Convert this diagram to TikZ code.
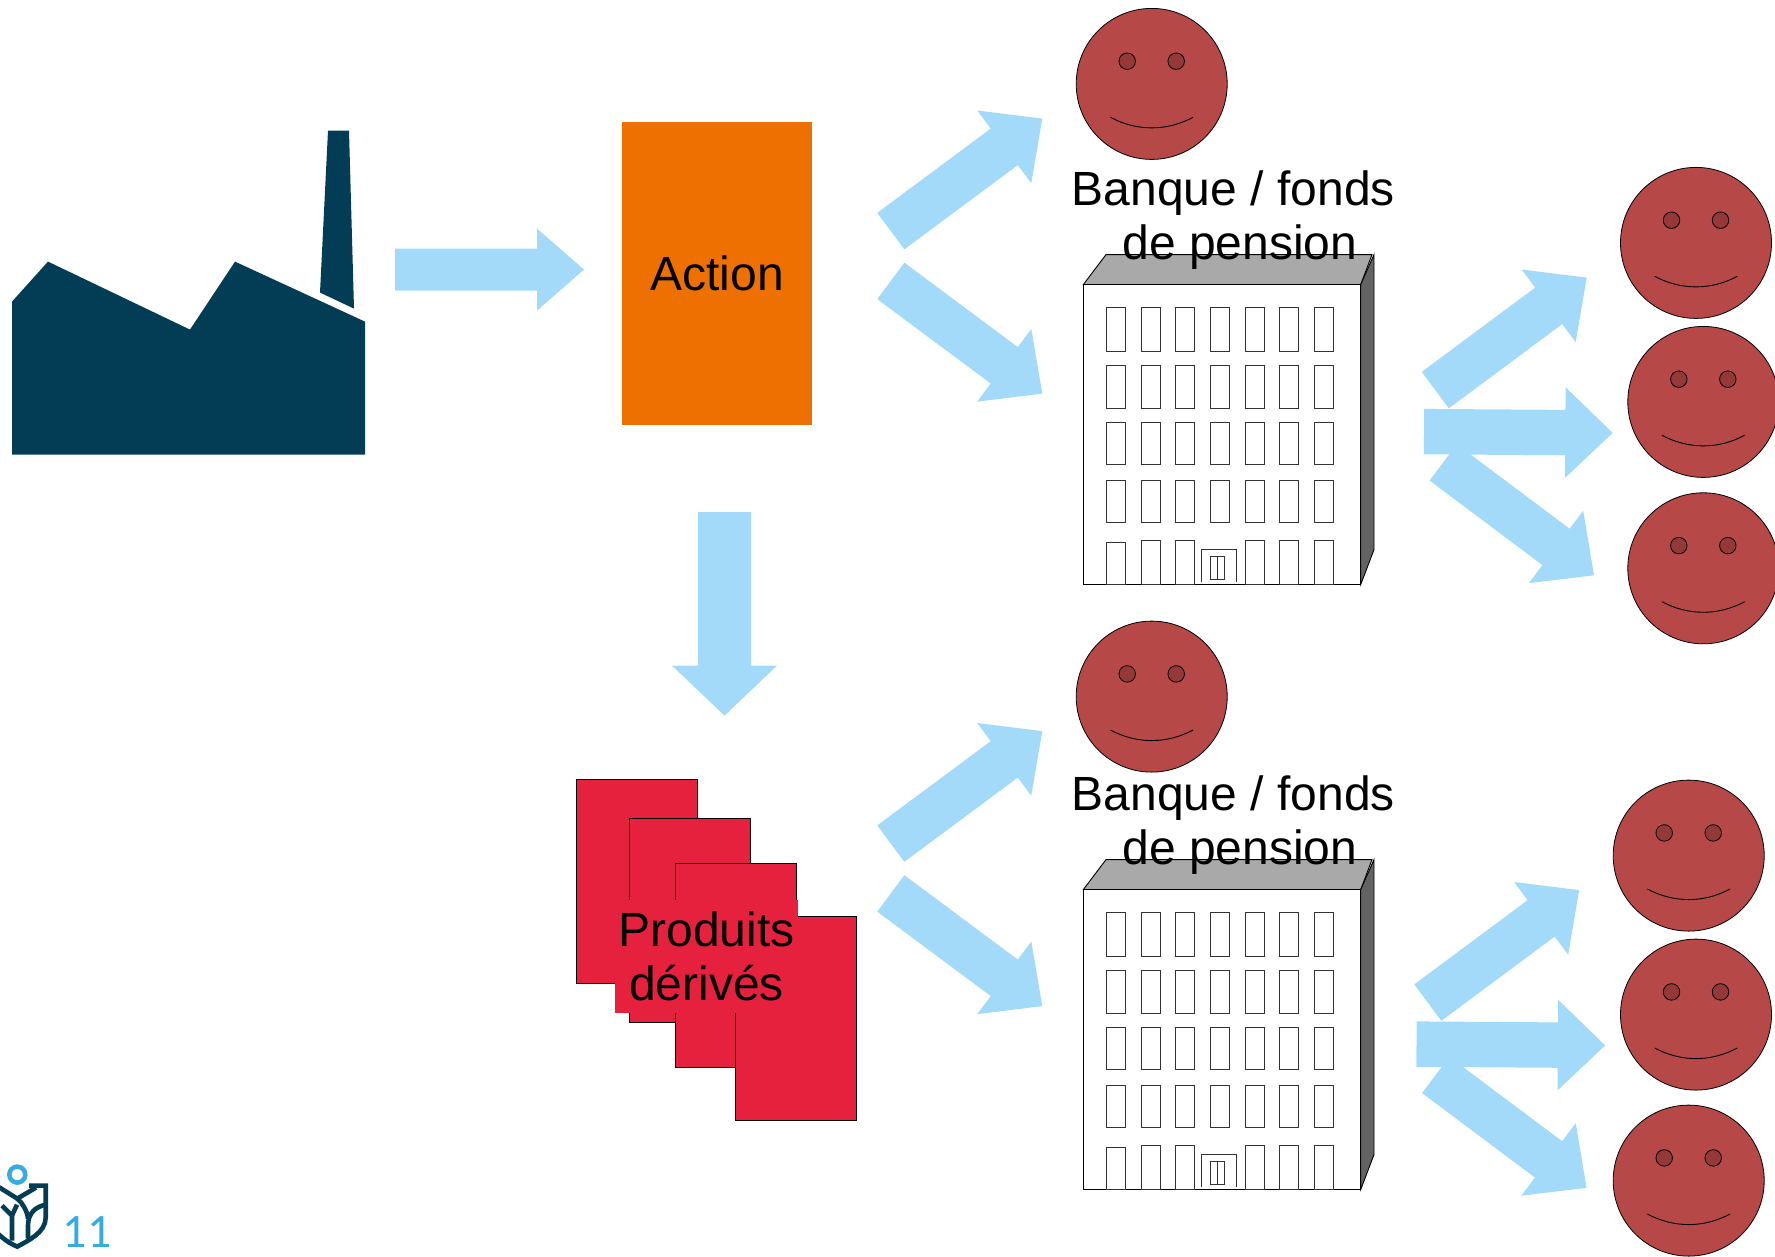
\documentclass[tikz,border=0pt]{standalone}
\usepackage{fontspec}
\setmainfont{Liberation Sans}
\newfontfamily\pagefont{Carlito}
\usepackage{tikz}
\usetikzlibrary{calc,positioning}
\definecolor{arrowblue}{RGB}{163,218,249}
\definecolor{factoryblue}{RGB}{3,60,85}
\definecolor{actionorange}{RGB}{238,112,0}
\definecolor{derivedred}{RGB}{230,33,61}
\definecolor{facered}{RGB}{182,72,72}
\definecolor{eyered}{RGB}{148,56,56}
\definecolor{roofgray}{RGB}{169,169,169}
\definecolor{sidegray}{RGB}{99,99,99}
\definecolor{pageblue}{RGB}{53,171,226}

% tail, tip, half shaft, half head, head length
\newcommand{\fatarrow}[5]{
    \coordinate (base) at ($(#2)!#5pt!(#1)$);
    \fill[arrowblue] ($(#1)!#3pt!90:(#2)$) -- ($(base)!#3pt!90:(#2)$) -- ($(base)!#4pt!90:(#2)$)
        -- (#2) -- ($(base)!#4pt!-90:(#2)$) -- ($(base)!#3pt!-90:(#2)$) -- ($(#1)!#3pt!-90:(#2)$) -- cycle;
}

\begin{document}
\begin{tikzpicture}[
    x=1pt, y=-1pt,
    bigtext/.style={font=\fontsize{48}{54}\selectfont, align=center, inner sep=0pt},
    paper/.style={draw=black, line width=1pt, fill=derivedred, minimum width=121pt, minimum height=204pt, inner sep=0pt},
    face/.style={circle, draw=black, line width=0.8pt, fill=facered, minimum size=151pt, inner sep=0pt},
    eye/.style={circle, draw=black, line width=0.8pt, fill=eyered, minimum size=16.5pt, inner sep=0pt},
    smile/.style={black, line width=0.9pt},
    wall/.style={draw=black, line width=0.9pt},
    pane/.style={draw=black!80, line width=0.9pt},
    logoline/.style={draw=factoryblue, line width=4.6pt}
]
\useasboundingbox (0,-0.6) rectangle (1775,1255.4);

% Factory
\fill[factoryblue] (12,301) -- (48,261) -- (190,329) -- (235,261) -- (365,321) -- (365,454) -- (12,454) -- cycle;
\fill[factoryblue] (328,130) -- (349,130) -- (354,308) -- (320,292) -- cycle;

% Block arrows
\foreach \name/\tailx/\taily/\tipx/\tipy/\shaft/\head/\len in {
    share/395/269/584/269/21/41/47,
    split/724.5/511.5/724.5/715/26.5/52.5/50,
    shareup/890.8/230.5/1042.3/118/22.7/45.3/47.4,
    sharedown/890.8/280.3/1042.3/393/22.7/45.3/47.4,
    derivup/890.8/843/1042.3/730.5/22.7/45.3/47.4,
    derivdown/890.8/892.8/1042.3/1005.5/22.7/45.3/47.4,
    topa/1435.3/389.5/1586.7/277/22.7/45.3/47.4,
    topb/1424/431/1612.7/432.3/22.7/45.3/47.4,
    topc/1443.2/461.8/1594/574.7/22.7/45.3/47.4,
    bota/1427.8/1002/1579.2/889.5/22.7/45.3/47.4,
    botb/1416.5/1043.5/1605.2/1044.8/22.7/45.3/47.4,
    botc/1435.7/1074.3/1586.5/1187.2/22.7/45.3/47.4} {
    \coordinate (\name-tail) at (\tailx,\taily);
    \coordinate (\name-tip) at (\tipx,\tipy);
    \fatarrow{\name-tail}{\name-tip}{\shaft}{\head}{\len}
}

% Share and derived products
\node[fill=actionorange, minimum width=189.5pt, minimum height=303pt, inner sep=0pt] (action) at (717,272.5) {};
\node[bigtext] (actiontext) at (717,273) {Action};

\node[paper] (paperA) at (637,881.3) {};
\node[paper] (paperB) at (690.3,919.5) {};
\node[paper] (paperC) at (735.8,964.7) {};
\node[paper] (paperD) at (796.2,1017.5) {};
\node[bigtext, fill=derivedred, minimum width=183.6pt, minimum height=112.7pt] (derived) at (706.5,955.6) {Produits\\dérivés};

% Buildings
\foreach \name/\dy in {bankA/0, bankB/605} {
\begin{scope}[shift={(0,\dy)}]
    \filldraw[wall, fill=roofgray] (1083.3,284) -- (1106,254) -- (1372,254) -- (1360.7,284) -- cycle;
    \filldraw[wall, fill=sidegray] (1360.7,284) -- (1374,254) -- (1374,549) -- (1360.7,584) -- cycle;
    \filldraw[wall, fill=white] (1083.3,284) rectangle (1360.7,584);
    \foreach \wx in {1106.3,1141.3,1175.7,1210.3,1245,1279.3,1314.3} {
        \foreach \wy/\wh in {307/43.7,364.7/43.6,422.3/41.7,480.3/41.4} {
            \draw[pane] (\wx,\wy) rectangle ++(19,\wh);
        }
    }
    \foreach \wx in {1141.3,1175.7,1245,1279.3,1314.3} {
        \draw[pane] (\wx,540.3) rectangle (\wx+19,584);
    }
    \draw[pane] (1106.3,542.3) rectangle (1125.3,584);
    \draw[pane] (1201.3,581.7) -- (1201.3,549.3) -- (1236,549.3) -- (1236,581.7);
    \draw[pane] (1210.3,556.3) rectangle (1224.3,579.3);
    \draw[pane] (1217.3,556.3) -- (1217.3,579.3);
\end{scope}
\node[bigtext] (\name-text) at (1240,\dy+219) {Banque / fonds\ \mbox{}\\de pension};
}

% Faces
\foreach \name/\fx/\fy in {bankerA/1151.7/83.3, bankerB/1151.7/696,
    clientA/1696/242.3, clientB/1703.3/401.3, clientC/1703.3/567.7,
    clientD/1688.7/855, clientE/1696/1014, clientF/1688.7/1180} {
    \node[face] (\name) at (\fx,\fy) {};
    \node[eye] (\name-left) at ($(\name)+(-24.5,-22.7)$) {};
    \node[eye] (\name-right) at ($(\name)+(24.5,-22.7)$) {};
    \draw[smile] ($(\name)+(-41.3,33.4)$) .. controls ($(\name)+(-15,47.5)$) and ($(\name)+(15,47.5)$) .. ($(\name)+(41.3,33.4)$);
}

% Logo and page number
\node[circle, draw=pageblue, line width=4.5pt, minimum size=16pt, inner sep=0pt] (ring) at (17.3,1174) {};
\draw[logoline] (29,1185) -- (45.7,1185) -- (45.7,1217) .. controls (45.7,1232) and (28,1240) .. (17.3,1246) .. controls (8,1242) and (3,1238) .. (-3,1232);
\draw[logoline] (-2,1186) -- (17.3,1198) -- (36,1187);
\draw[logoline] (46,1204) .. controls (36,1206) and (28,1212) .. (28,1225) -- (28,1238);
\draw[logoline] (17.3,1198) .. controls (23,1203) and (27,1210) .. (28,1218);
\draw[logoline] (12,1240) -- (12,1215) (17,1204) -- (12,1215) -- (2,1205);
\node[font=\pagefont\fontsize{48}{48}\selectfont, text=pageblue, anchor=base, inner sep=0pt] (pagenum) at (87.2,1246.7) {11};
\end{tikzpicture}
\end{document}
